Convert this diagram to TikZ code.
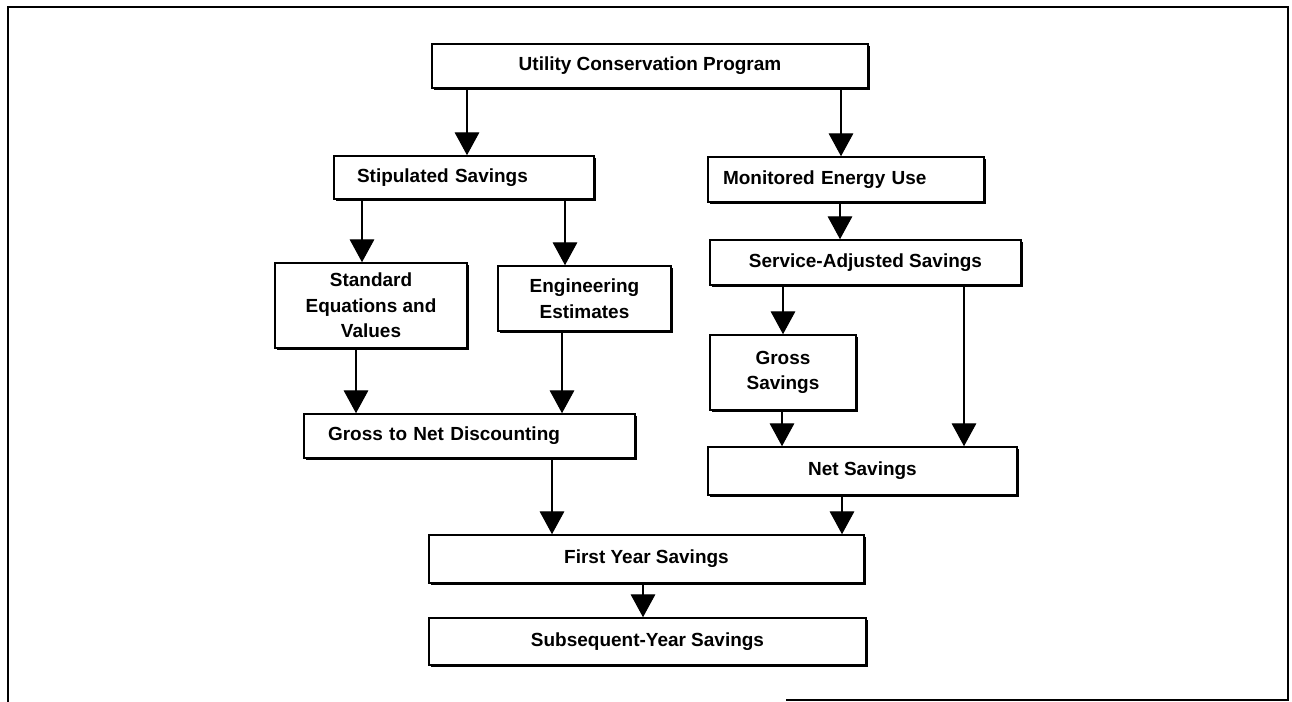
\documentclass[tikz,border=0pt]{standalone}
\usepackage{fontspec}
\setmainfont{Liberation Sans}
\usetikzlibrary{arrows.meta,shadows}

\begin{document}
\begin{tikzpicture}[x=0.02cm,y=-0.02cm,font=\bfseries\fontsize{10.8}{14.5}\selectfont,
  box/.style={draw,line width=0.9pt,fill=white,inner sep=0pt,align=center,
    drop shadow={shadow xshift=1.1pt,shadow yshift=-1.1pt,fill=black,opacity=1}},
  lbox/.style={box,align=left},
  arr/.style={line width=0.6pt,-{Triangle[width=14pt,length=13pt]}}]

\useasboundingbox (0,0) rectangle (1292,702);

% frame
\draw[line width=1pt] (8,702) -- (8,7) -- (1288,7) -- (1288,700) -- (786,700);

% boxes
\node[box,minimum width=8.72cm,minimum height=0.88cm] (util) at (650,66) {Utility Conservation Program};

\node[lbox,inner xsep=0.46cm,text width=4.28cm,minimum height=0.86cm] (stip) at (464,177.5) {Stipulated Savings};
\node[lbox,inner xsep=0.30cm,text width=4.92cm,minimum height=0.90cm] (mon) at (846,179.5) {Monitored Energy Use};

\node[box,minimum width=3.84cm,minimum height=1.70cm] (std) at (371,305.5) {Standard\\Equations and\\Values};
\node[box,minimum width=3.46cm,minimum height=1.30cm] (eng) at (584.5,298.5) {Engineering\\Estimates};
\node[box,minimum width=6.22cm,minimum height=0.90cm] (serv) at (865.5,262.5) {Service-Adjusted Savings};
\node[box,minimum width=2.92cm,minimum height=1.50cm] (gross) at (783,372.5) {Gross\\Savings};

\node[lbox,inner xsep=0.48cm,text width=5.66cm,minimum height=0.88cm] (gnd) at (469.5,436) {Gross to Net Discounting};
\node[box,minimum width=6.18cm,minimum height=0.96cm] (net) at (862.5,471) {Net Savings};

\node[box,minimum width=8.70cm,minimum height=0.96cm] (first) at (646.5,559) {First Year Savings};
\node[box,minimum width=8.74cm,minimum height=0.94cm] (subs) at (647.5,641.5) {Subsequent-Year Savings};

% arrows
\draw[arr] (util.south -| 467,0) -- (stip.north -| 467,0);
\draw[arr] (util.south -| 841,0) -- (mon.north -| 841,0);
\draw[arr] (stip.south -| 362,0) -- (std.north -| 362,0);
\draw[arr] (stip.south -| 565,0) -- (eng.north -| 565,0);
\draw[arr] (mon.south -| 840,0) -- (serv.north -| 840,0);
\draw[arr] (serv.south -| 783,0) -- (gross.north -| 783,0);
\draw[arr] (serv.south -| 964,0) -- (net.north -| 964,0);
\draw[arr] (std.south -| 356,0) -- (gnd.north -| 356,0);
\draw[arr] (eng.south -| 562,0) -- (gnd.north -| 562,0);
\draw[arr] (gross.south -| 782,0) -- (net.north -| 782,0);
\draw[arr] (gnd.south -| 552,0) -- (first.north -| 552,0);
\draw[arr] (net.south -| 842,0) -- (first.north -| 842,0);
\draw[arr] (first.south -| 643,0) -- (subs.north -| 643,0);

\end{tikzpicture}
\end{document}
